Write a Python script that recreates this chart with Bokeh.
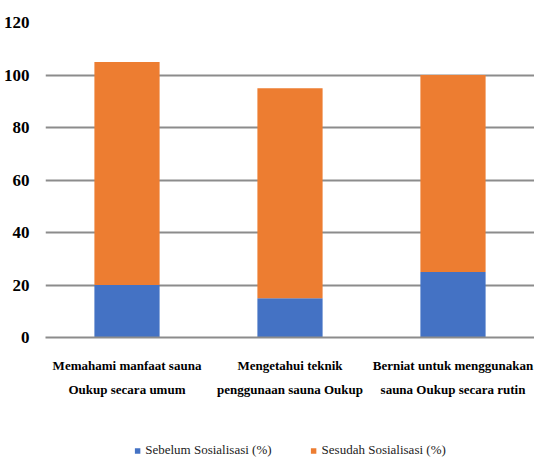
from bokeh.plotting import figure
from bokeh.layouts import column
from bokeh.models import ColumnDataSource, Legend, LegendItem, FixedTicker
from bokeh.embed import file_html
from bokeh.resources import INLINE

categories = ["Memahami manfaat sauna\nOukup secara umum",
              "Mengetahui teknik\npenggunaan sauna Oukup",
              "Berniat untuk menggunakan\nsauna Oukup secara rutin"]
sebelum = [20, 15, 25]
sesudah = [85, 80, 75]
series = ["Sebelum Sosialisasi (%)", "Sesudah Sosialisasi (%)"]
colors = ["#4472C4", "#ED7D31"]
y_ticks = [0, 20, 40, 60, 80, 100, 120]

source = ColumnDataSource(dict(cat=categories, sebelum=sebelum, sesudah=sesudah))

p = figure(x_range=categories, y_range=(0, 120), width=534, height=437,
           output_backend="svg", toolbar_location=None,
           min_border_left=42, min_border_right=0, min_border_top=22, min_border_bottom=100)
p.outline_line_color = None
p.background_fill_color = "white"
p.border_fill_color = "white"

rs = p.vbar_stack(["sebelum", "sesudah"], x="cat", width=0.4, source=source,
                  color=colors, line_color=None)

p.yaxis.ticker = FixedTicker(ticks=y_ticks)
p.yaxis.axis_line_color = None
p.yaxis.major_tick_line_color = None
p.yaxis.minor_tick_line_color = None
p.yaxis.major_label_text_font = "Liberation Serif"
p.yaxis.major_label_text_font_style = "bold"
p.yaxis.major_label_text_font_size = "17px"
p.yaxis.major_label_text_color = "#000000"
p.yaxis.major_label_standoff = 10

p.xaxis.axis_line_color = "#8c8c8c"
p.xaxis.axis_line_width = 2
p.xaxis.major_tick_line_color = None
p.xaxis.minor_tick_line_color = None
p.xaxis.major_label_text_font = "Liberation Serif"
p.xaxis.major_label_text_font_style = "bold"
p.xaxis.major_label_text_font_size = "13px"
p.xaxis.major_label_text_color = "#000000"
p.xaxis.major_label_text_line_height = 1.6
p.xaxis.major_label_standoff = 14

p.xgrid.grid_line_color = None
p.ygrid.grid_line_color = "#8c8c8c"
p.ygrid.grid_line_width = 2
p.ygrid.ticker = FixedTicker(ticks=y_ticks)

# legend strip below the chart (its bars lie outside its visible range)
lf = figure(width=534, height=26, output_backend="svg", toolbar_location=None,
            x_range=categories, y_range=(1000, 1001),
            min_border_left=0, min_border_right=0, min_border_top=0, min_border_bottom=0)
lf.axis.visible = False
lf.grid.visible = False
lf.outline_line_color = None
lf.border_fill_color = "white"
lr = lf.vbar_stack(["sebelum", "sesudah"], x="cat", width=0.4, source=source,
                   color=colors, line_color=None)
legend = Legend(items=[LegendItem(label=series[i], renderers=[lr[i]]) for i in range(2)],
                orientation="horizontal", location="center",
                glyph_width=7, glyph_height=7, label_standoff=5, spacing=38,
                label_text_font="Liberation Serif", label_text_font_size="13px",
                label_text_color="#222222", border_line_color=None,
                background_fill_alpha=0, margin=0, padding=2)
lf.add_layout(legend, "center")

layout = column(p, lf, spacing=0)
open("out.html", "w").write(file_html(layout, INLINE))
